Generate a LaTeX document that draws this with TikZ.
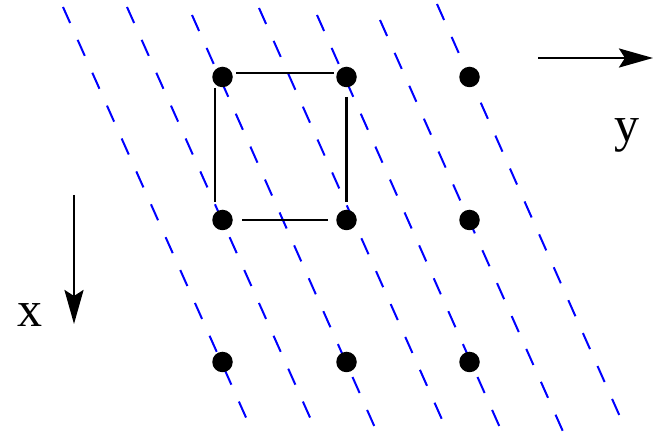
\documentclass[tikz,border=0pt]{standalone}
\usepackage{fontspec}
\setmainfont{Liberation Serif}
\usetikzlibrary{arrows.meta,calc}
\begin{document}
\begin{tikzpicture}[x=1pt,y=-1pt,
  dot/.style={circle,fill=black,inner sep=0pt,minimum size=20.5pt},
  bluedash/.style={blue,line width=2pt,dash pattern=on 17.5pt off 18.5pt},
  edge/.style={black,line width=2.6pt},
  axis/.style={black,line width=2.8pt,-{Stealth[length=34pt,width=19pt,inset=6pt]}},
  lbl/.style={font=\fontsize{50}{50}\selectfont,inner sep=0pt,anchor=base}]
\useasboundingbox (0,0) rectangle (654,438);
% slanted dashed lines
\coordinate (t1) at (63,7);   \coordinate (b1) at (248,422);
\coordinate (t2) at (127,7);  \coordinate (b2) at (312,422);
\coordinate (t3) at (192,15); \coordinate (b3) at (376,430);
\coordinate (t4) at (259,8);  \coordinate (b4) at (444,424);
\coordinate (t5) at (317,15); \coordinate (b5) at (501,430);
\coordinate (t6) at (380,20); \coordinate (b6) at (565,436);
\coordinate (t7) at (437,4);  \coordinate (b7) at (621,419);
\foreach \i in {1,...,7} \draw[bluedash] (t\i) -- (b\i);
% lattice points
\node[dot] (d11) at (222.5,77) {};
\node[dot] (d12) at (346.5,77) {};
\node[dot] (d13) at (469.5,77) {};
\node[dot] (d21) at (222.5,220) {};
\node[dot] (d22) at (346.5,220) {};
\node[dot] (d23) at (469.5,220) {};
\node[dot] (d31) at (222.5,362) {};
\node[dot] (d32) at (346.5,362) {};
\node[dot] (d33) at (469.5,362) {};
% square
\draw[edge] ($(d11)+(13.5,-4)$) -- ($(d12)+(-12.5,-4)$);
\draw[edge] ($(d11)+(-7.5,11)$) -- ($(d21)+(-7.5,-18)$);
\draw[edge] ($(d12)+(0,20)$) -- ($(d22)+(0,-18)$);
\draw[edge] ($(d21)+(19.5,0)$) -- ($(d22)+(-18.5,0)$);
% axes
\coordinate (ys) at (538,58); \coordinate (ye) at (653,58);
\draw[axis] (ys) -- (ye);
\node[lbl] (ylab) at (627,142) {y};
\coordinate (xs) at (74,195); \coordinate (xe) at (74,324);
\draw[axis] (xs) -- (xe);
\node[lbl] (xlab) at (30,327) {x};
\end{tikzpicture}
\end{document}
